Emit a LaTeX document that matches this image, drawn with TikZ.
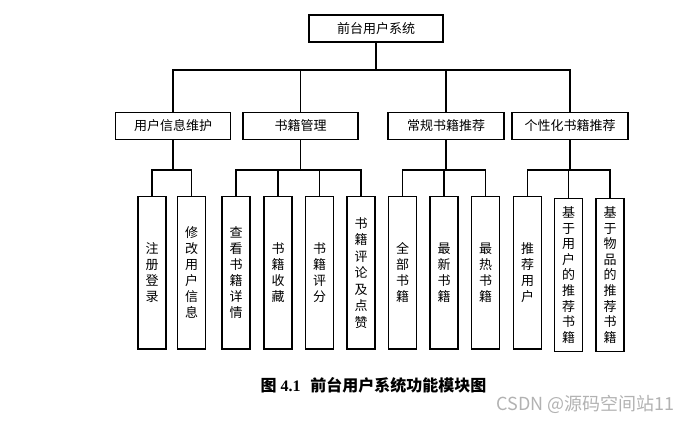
\documentclass[tikz,border=0pt]{standalone}
\usepackage{fontspec}
\setmainfont{Liberation Serif}
\newfontfamily\cjk{Noto Sans CJK SC}
\newfontfamily\wmfont{Noto Sans CJK SC}
\begin{document}
\begin{tikzpicture}[x=1pt,y=-1pt,
  box/.style={draw=black,line width=1.4pt,rectangle,inner sep=0pt,fill=white},
  midbox/.style={box,minimum height=27pt,font=\cjk\fontsize{13}{15}\selectfont},
  leaf/.style={box,minimum width=28pt,minimum height=152.5pt,align=center,font=\cjk\fontsize{13}{16}\selectfont},
  conn/.style={line width=1.4pt}]
\useasboundingbox (0,0) rectangle (696,422);
% top
\node[midbox,minimum width=134pt] (top) at (376,28.5) {前台用户系统};
% level 2
\node[midbox,minimum width=115pt] (m1) at (173,126) {用户信息维护};
\node[midbox,minimum width=115pt] (m2) at (300.5,126) {书籍管理};
\node[midbox,minimum width=116pt] (m3) at (446,126) {常规书籍推荐};
\node[midbox,minimum width=116pt] (m4) at (570,126) {个性化书籍推荐};
% leaves
\node[leaf] (a1) at (152,272.75) {注\\册\\登\\录};
\node[leaf] (a2) at (191.5,272.75) {修\\改\\用\\户\\信\\息};
\node[leaf] (b1) at (236,272.75) {查\\看\\书\\籍\\详\\情};
\node[leaf] (b2) at (278,272.75) {书\\籍\\收\\藏};
\node[leaf] (b3) at (319.5,272.75) {书\\籍\\评\\分};
\node[leaf,font=\cjk\fontsize{13}{16.5}\selectfont] (b4) at (361,272.75) {书\\籍\\评\\论\\及\\点\\赞};
\node[leaf] (c1) at (402.5,272.75) {全\\部\\书\\籍};
\node[leaf] (c2) at (444,272.75) {最\\新\\书\\籍};
\node[leaf] (c3) at (485.5,272.75) {最\\热\\书\\籍};
\node[leaf] (d1) at (527.5,272.75) {推\\荐\\用\\户};
\node[leaf,font=\cjk\fontsize{13}{15.6}\selectfont] (d2) at (568.5,275) {基\\于\\用\\户\\的\\推\\荐\\书\\籍};
\node[leaf,font=\cjk\fontsize{13}{15.6}\selectfont] (d3) at (610,275) {基\\于\\物\\品\\的\\推\\荐\\书\\籍};
% bus coordinates
\coordinate (t0) at (376,70);
\coordinate (s1) at (173,170);
\coordinate (s2) at (300.5,170);
\coordinate (s3) at (446,170);
\coordinate (s4) at (570,170);
% connectors
\draw[conn] (top.south) -- (t0);
\foreach \m in {m1,m2,m3,m4} \draw[conn] (t0) -| (\m.north);
\draw[conn] (m1.south) -- (s1);
\draw[conn] (m2.south) -- (s2);
\draw[conn] (m3.south) -- (s3);
\draw[conn] (m4.south) -- (s4);
\foreach \l in {a1,a2} \draw[conn] (s1) -| (\l.north);
\foreach \l in {b1,b2,b3,b4} \draw[conn] (s2) -| (\l.north);
\foreach \l in {c1,c2,c3} \draw[conn] (s3) -| (\l.north);
\foreach \l in {d1,d2,d3} \draw[conn] (s4) -| (\l.north);
% caption
\node[font=\fontsize{16}{18}\selectfont\bfseries] (cap) at (373.5,385) {{\cjk 图} 4.1\hspace{0.6em}{\cjk 前台用户系统功能模块图}};
\node[font=\wmfont\fontsize{18}{20}\selectfont,text=black!30,anchor=east] (wm) at (678,404) {CSDN @源码空间站11};
\end{tikzpicture}
\end{document}
